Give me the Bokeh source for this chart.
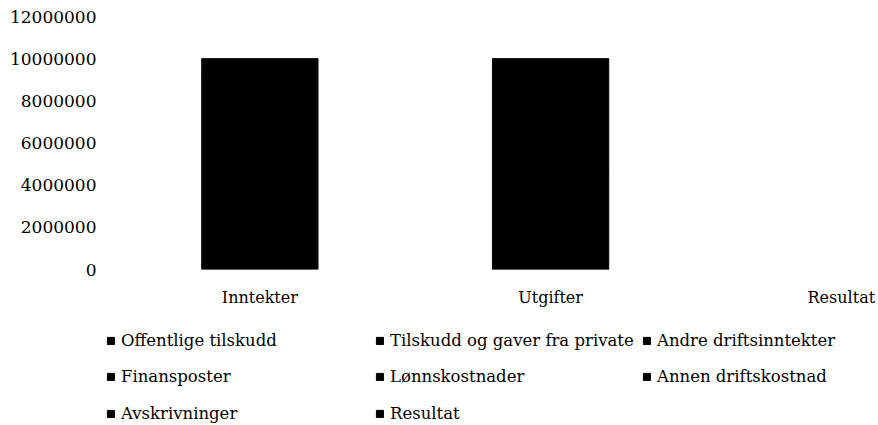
from bokeh.plotting import figure
from bokeh.layouts import column
from bokeh.models import Range1d, FixedTicker, Legend, LegendItem, ColumnDataSource, NumeralTickFormatter
from bokeh.embed import file_html
from bokeh.resources import INLINE

categories = ["Inntekter", "Utgifter", "Resultat"]
series_names = ["Offentlige tilskudd", "Tilskudd og gaver fra private", "Andre driftsinntekter",
                "Finansposter", "Lønnskostnader", "Annen driftskostnad", "Avskrivninger", "Resultat"]
offentlige_tilskudd = [7490000, 0, 0]
tilskudd_gaver_private = [1700000, 0, 0]
andre_driftsinntekter = [810000, 0, 0]
finansposter = [0, 0, 0]
lonnskostnader = [0, 4750000, 0]
annen_driftskostnad = [0, 5250000, 0]
avskrivninger = [0, 0, 0]
resultat = [0, 0, 0]
y_ticks = [0, 2000000, 4000000, 6000000, 8000000, 10000000, 12000000]

series = [offentlige_tilskudd, tilskudd_gaver_private, andre_driftsinntekter, finansposter,
          lonnskostnader, annen_driftskostnad, avskrivninger, resultat]

FONT = "DejaVu Serif"

p = figure(width=876, height=320, output_backend="svg", toolbar_location=None,
           x_range=Range1d(-0.5, 2.121), y_range=Range1d(0, 12000000),
           min_border_left=114, min_border_right=0, min_border_top=16, min_border_bottom=51)
p.outline_line_color = None
p.xgrid.visible = False
p.ygrid.visible = False
p.frame_align = False

xs = list(range(len(categories)))
bottoms = [0] * len(categories)
for name, vals in zip(series_names, series):
    tops = [b + v for b, v in zip(bottoms, vals)]
    src = ColumnDataSource(dict(x=xs, bottom=bottoms, top=tops,
                                la=[1.0 if v > 0 else 0.0 for v in vals]))
    p.vbar(x="x", bottom="bottom", top="top", width=0.4, source=src,
           fill_color="black", line_color="black", line_alpha="la", line_width=1)
    bottoms = tops

p.xaxis.ticker = FixedTicker(ticks=xs)
p.xaxis.major_label_overrides = {i: c for i, c in enumerate(categories)}
p.yaxis.ticker = FixedTicker(ticks=y_ticks)
p.yaxis.formatter = NumeralTickFormatter(format="0")
for ax in (p.xaxis[0], p.yaxis[0]):
    ax.axis_line_color = None
    ax.major_tick_line_color = None
    ax.minor_tick_line_color = None
    ax.major_label_text_font = FONT
    ax.major_label_text_color = "black"
p.xaxis.major_label_text_font_size = "16px"
p.yaxis.major_label_text_font_size = "17px"
p.xaxis.major_label_standoff = 12
p.yaxis.major_label_standoff = 12

# legend in its own strip below the chart
lf = figure(width=876, height=104, output_backend="svg", toolbar_location=None,
            x_axis_location=None, y_axis_location=None,
            x_range=Range1d(0, 1), y_range=Range1d(0, 1),
            min_border=0, min_border_left=0, min_border_right=0, min_border_top=0, min_border_bottom=0)
lf.outline_line_color = None
lf.xgrid.visible = False
lf.ygrid.visible = False
lf.frame_align = False
items = []
for name in series_names:
    r = lf.vbar(x=[5], bottom=[5], top=[6], width=0.4, fill_color="black", line_color="black")
    items.append(LegendItem(label=name, renderers=[r]))

col_x = [106, 375, 642]
row_y = [74, 37.5, 1]
for i, item in enumerate(items):
    rr, c = divmod(i, 3)
    lg = Legend(items=[item], location=(col_x[c], row_y[rr]),
                label_text_font=FONT, label_text_font_size="16.5px", label_text_color="black",
                glyph_width=9, glyph_height=9, label_standoff=6, spacing=0,
                label_height=20, padding=0, margin=0, border_line_color=None,
                background_fill_alpha=0)
    lf.add_layout(lg, "center")

layout = column(p, lf, spacing=0)
open("out.html", "w").write(file_html(layout, INLINE))
